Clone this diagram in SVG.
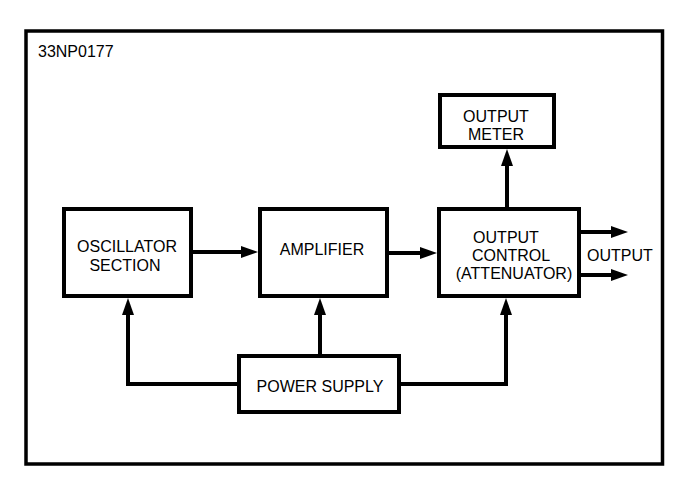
<svg xmlns="http://www.w3.org/2000/svg" width="695" height="500" viewBox="0 0 695 500">
<defs>
<marker id="ah" markerUnits="userSpaceOnUse" markerWidth="18" markerHeight="12" refX="9" refY="6" orient="auto" overflow="visible">
<path d="M0,0 L17,6 L0,12 z" fill="#000"/>
</marker>
<style>
.box{fill:#fff;stroke:#000;stroke-width:4}
.t{font-family:"Liberation Sans",Arial,sans-serif;font-size:16px;fill:#000;text-anchor:middle}
.c{fill:none;stroke:#000;stroke-width:4;marker-end:url(#ah)}
</style>
</defs>
<rect x="0" y="0" width="695" height="500" fill="#fff"/>
<rect x="26" y="31" width="636.5" height="433" fill="none" stroke="#000" stroke-width="3.5"/>
<text x="38" y="57" class="t" style="text-anchor:start">33NP0177</text>
<g id="connectors">
<path class="c" d="M193,252 H250"/>
<path class="c" d="M389,253 H429"/>
<path class="c" d="M507,207 V157"/>
<path class="c" d="M581,232 H620"/>
<path class="c" d="M581,275 H620"/>
<path class="c" d="M237,384 H128 V306"/>
<path class="c" d="M320,354 V306"/>
<path class="c" d="M401,384 H506 V306"/>
</g>
<g id="oscillator">
<rect class="box" x="64" y="209" width="127" height="87"/>
<text class="t" x="127" y="252">OSCILLATOR</text>
<text class="t" x="125" y="271">SECTION</text>
</g>
<g id="amplifier">
<rect class="box" x="260" y="209" width="127" height="87"/>
<text class="t" x="322" y="255">AMPLIFIER</text>
</g>
<g id="output-control">
<rect class="box" x="439" y="209" width="140" height="87"/>
<text class="t" x="506" y="243">OUTPUT</text>
<text class="t" x="511" y="261">CONTROL</text>
<text class="t" x="514" y="279">(ATTENUATOR)</text>
</g>
<g id="output-meter">
<rect class="box" x="440" y="95" width="114" height="52"/>
<text class="t" x="496" y="122">OUTPUT</text>
<text class="t" x="496" y="140">METER</text>
</g>
<g id="power-supply">
<rect class="box" x="239" y="356" width="160" height="56"/>
<text class="t" x="320" y="392">POWER SUPPLY</text>
</g>
<g id="output-label">
<text class="t" x="587" y="261" style="text-anchor:start">OUTPUT</text>
</g>
</svg>
